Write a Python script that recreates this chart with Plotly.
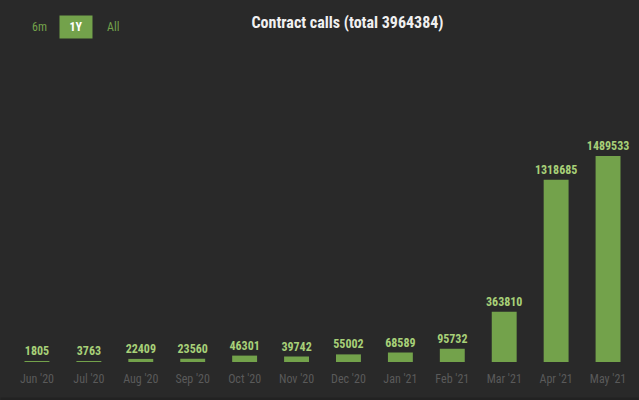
import plotly.graph_objects as go

months = ["Jun '20", "Jul '20", "Aug '20", "Sep '20", "Oct '20", "Nov '20",
          "Dec '20", "Jan '21", "Feb '21", "Mar '21", "Apr '21", "May '21"]
calls = [1805, 3763, 22409, 23560, 46301, 39742, 55002, 68589, 95732, 363810, 1318685, 1489533]
total = 3964384
range_buttons = ["6m", "1Y", "All"]
active_button = "1Y"

W, H = 639, 400
ML, MR, MT, MB = 10.5, 4.5, 60, 38
bg = "#292929"
bar_col = "#73a24b"
lbl_col = "#a7d078"
FONT = "Roboto Condensed, Liberation Sans Narrow, Roboto"

def px_x(x):
    return (x - ML) / (W - ML - MR)

def px_y(y):
    return (H - MB - y) / (H - MT - MB)

fig = go.Figure(go.Bar(
    x=months, y=calls,
    marker=dict(color=bar_col, line=dict(width=0)),
    text=[f"<b>{v}</b>" for v in calls], textposition="outside",
    textfont=dict(family=FONT, size=12, color=lbl_col),
    constraintext="none", textangle=0,
    cliponaxis=False, hoverinfo="skip",
))

fig.update_layout(
    width=W, height=H,
    paper_bgcolor=bg, plot_bgcolor=bg,
    margin=dict(l=ML, r=MR, t=MT, b=MB, autoexpand=False),
    bargap=0.52,
    showlegend=False,
    title=dict(text=f"<b>Contract calls (total {total})</b>",
               font=dict(family=FONT, size=16, color="#f0f0f0"),
               xref="container", yref="container",
               x=347.5 / W, xanchor="center", y=1 - 22 / H, yanchor="middle"),
    xaxis=dict(showgrid=False, zeroline=False, showline=False, ticks="",
               tickfont=dict(family=FONT, size=12, color="#5a5a5a"),
               ticklabelstandoff=8, fixedrange=True),
    yaxis=dict(visible=False, range=[0, 1489533 * 302 / 206], fixedrange=True),
)

fig.add_shape(type="rect", xref="paper", yref="paper",
              x0=px_x(0), x1=px_x(W), y0=px_y(H), y1=px_y(397.5),
              fillcolor="#222222", line=dict(width=0), layer="above")

xs = [39, 76, 113]
for name, xp in zip(range_buttons, xs):
    active = name == active_button
    fig.add_annotation(
        text=f"<b>{name}</b>" if active else name,
        xref="paper", yref="paper",
        x=px_x(xp), y=px_y(27), xanchor="center", yanchor="middle",
        showarrow=False,
        font=dict(family=FONT, size=12, color="#ffffff" if active else "#73a24b"),
        bgcolor=bar_col if active else None,
        borderpad=4 if active else 0,
        width=24 if active else None,
        height=14 if active else None,
    )

fig.write_html("out.html", config={"displayModeBar": False},
               post_script="document.body.style.margin='0';document.body.style.background='%s';" % bg)
